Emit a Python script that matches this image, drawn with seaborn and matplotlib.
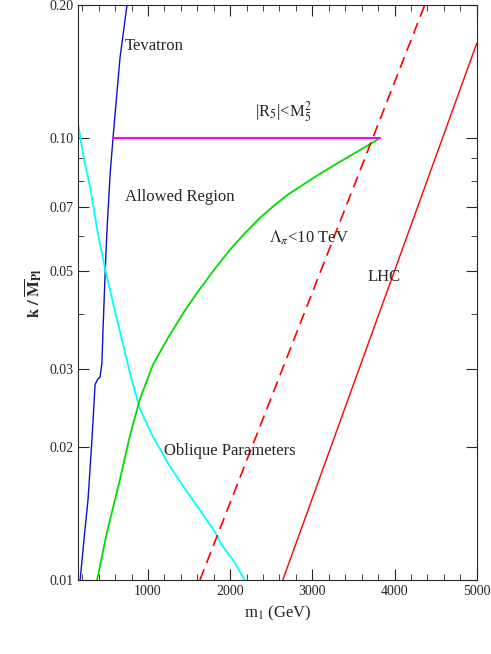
import numpy as np
import matplotlib.pyplot as plt
import seaborn as sns
from matplotlib.ticker import FixedLocator, FixedFormatter

sns.set_style("ticks")
plt.rcParams['font.family'] = ['Liberation Serif', 'DejaVu Serif']
plt.rcParams['mathtext.fontset'] = 'stix'

# curves (m1 in GeV, k/MPl)
tev_x = [175, 230, 271, 320, 357, 390, 417, 440, 454, 480, 502, 540, 575, 620, 660, 745]
tev_y = [0.010, 0.0128, 0.0152, 0.021, 0.0277, 0.0285, 0.0288, 0.031, 0.037, 0.050, 0.062, 0.083, 0.100, 0.125, 0.152, 0.200]
obl_x = [150, 220, 300, 380, 478, 580, 700, 800, 903, 1050, 1250, 1450, 1632, 1800, 1900, 2050, 2179]
obl_y = [0.108, 0.090, 0.077, 0.0625, 0.0507, 0.042, 0.034, 0.0285, 0.0244, 0.0213, 0.0183, 0.0161, 0.0144, 0.0130, 0.0120, 0.0110, 0.010]
lam_x = [381, 440, 500, 580, 660, 780, 903, 1060, 1250, 1440, 1632, 1820, 2000, 2180, 2361, 2530, 2700, 2900, 3090, 3270, 3450, 3640, 3820]
lam_y = [0.010, 0.0113, 0.0128, 0.0147, 0.0169, 0.0212, 0.0257, 0.0307, 0.0355, 0.0405, 0.0456, 0.0508, 0.0560, 0.061, 0.066, 0.0703, 0.0745, 0.0788, 0.083, 0.087, 0.091, 0.0955, 0.100]
r5_x = [575, 3820]
r5_y = [0.1, 0.1]
lhc_dash_x = [1632, 4366]
lhc_dash_y = [0.010, 0.200]
lhc_x = [2640, 5000]
lhc_y = [0.010, 0.164]

fig = plt.figure(figsize=(4.91, 6.54), dpi=100)
ax = fig.add_axes([0.159, 0.113, 0.812, 0.879])

sns.lineplot(x=tev_x, y=tev_y, ax=ax, color='#1010d0', lw=1, sort=False)
sns.lineplot(x=obl_x, y=obl_y, ax=ax, color='cyan', lw=1.3, sort=False)
sns.lineplot(x=lam_x, y=lam_y, ax=ax, color='#00dd00', lw=1.3, sort=False)
sns.lineplot(x=r5_x, y=r5_y, ax=ax, color='magenta', lw=1.5, sort=False)
ax.plot(lhc_dash_x, lhc_dash_y, color='red', lw=1.2, ls=(0, (7, 4)))
sns.lineplot(x=lhc_x, y=lhc_y, ax=ax, color='red', lw=1, sort=False)

ax.set_yscale('log')
ax.set_xlim(150, 5000)
ax.set_ylim(0.01, 0.2)
yt = [0.01, 0.02, 0.03, 0.05, 0.07, 0.10, 0.20]
ax.yaxis.set_major_locator(FixedLocator(yt))
ax.yaxis.set_major_formatter(FixedFormatter(['0.01', '0.02', '0.03', '0.05', '0.07', '0.10', '0.20']))
ax.yaxis.set_minor_locator(FixedLocator([0.04, 0.06, 0.08, 0.09]))
ax.set_xticks([1000, 2000, 3000, 4000, 5000])
ax.set_xticks(np.arange(200, 5000, 200), minor=True)
ax.tick_params(which='both', direction='in', top=True, right=True, labelsize=10)
ax.tick_params(which='major', length=8)
ax.tick_params(which='minor', length=4)

ax.set_xlabel(r'm$_1$ (GeV)', fontsize=12)
ax.set_ylabel(r'$\mathbf{k\ /\ \overline{M}_{Pl}}$', fontsize=12)

kw = dict(fontsize=12, transform=ax.transData)
ax.text(720, 0.158, 'Tevatron', **kw)
ax.text(2300, 0.112, r'|R$_5$|<M$_5^2$', **kw)
ax.text(720, 0.072, 'Allowed Region', **kw)
ax.text(2470, 0.058, r'$\Lambda_\pi$<10 TeV', **kw)
ax.text(3670, 0.0475, 'LHC', **kw)
ax.text(1200, 0.0192, 'Oblique Parameters', **kw)

fig.savefig('out.png', dpi=100)
